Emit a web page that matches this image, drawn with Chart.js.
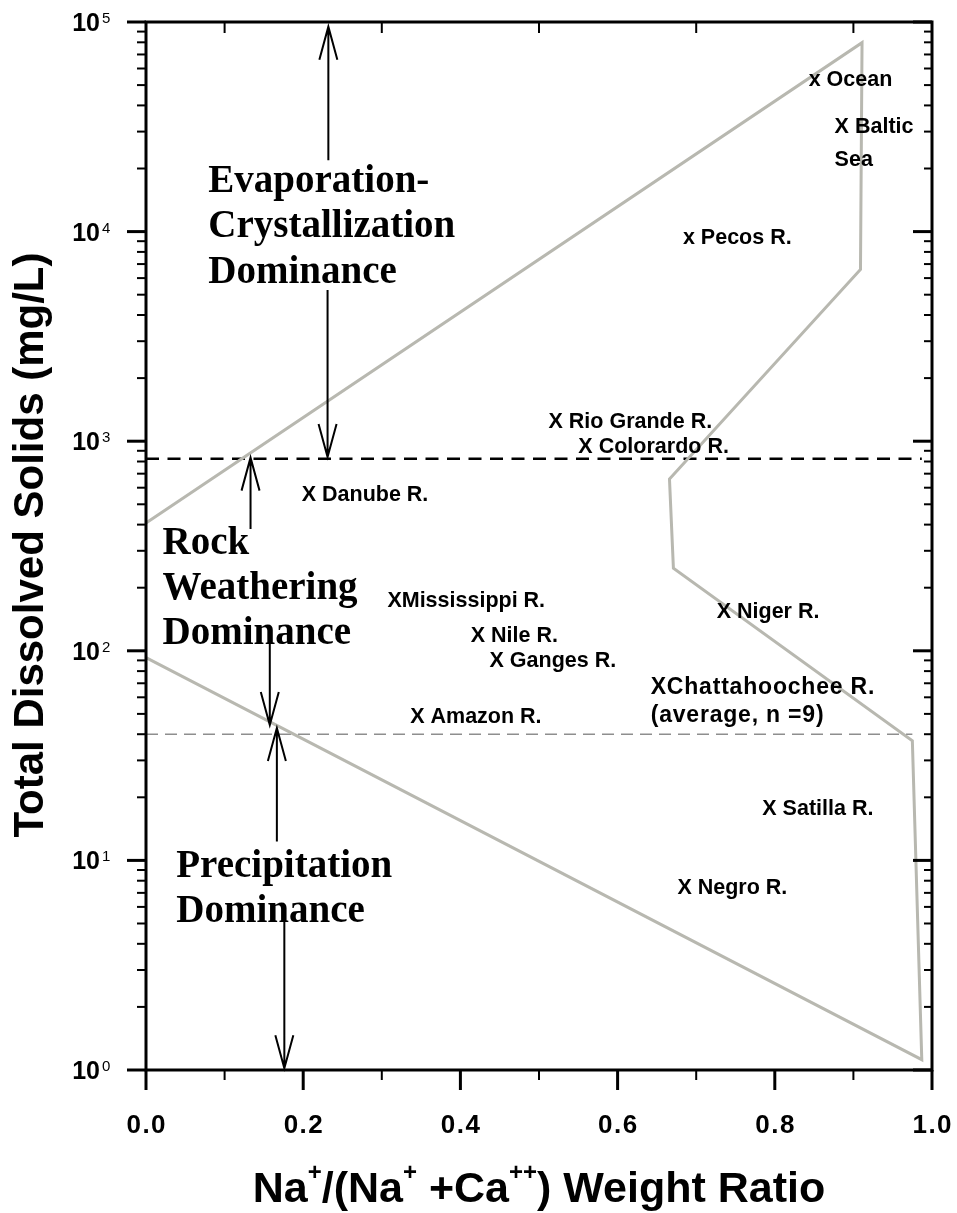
<!DOCTYPE html>
<html>
<head>
<meta charset="utf-8">
<title>Gibbs diagram</title>
<script src="https://cdn.jsdelivr.net/npm/chart.js@4/dist/chart.umd.min.js"></script>
<style>
  html, body { margin: 0; padding: 0; background: #ffffff; }
  canvas { display: block; }
</style>
</head>
<body>
<canvas id="gibbs" width="957" height="1213"></canvas>
<script>
// ---- Data -------------------------------------------------------------
// Boundary envelope of the Gibbs "boomerang" (Na/(Na+Ca) ratio, TDS mg/L)
const boundaryRatio = [0.0, 0.911, 0.909, 0.666, 0.671, 0.975, 0.987, 0.0];
const boundaryTDS   = [407, 79700, 6600, 660, 248, 37.2, 1.12, 92.7];

// Water bodies plotted on the diagram
const sampleNames = ['x Ocean', 'X Baltic', 'x Pecos R.', 'X Rio Grande R.', 'X Colorardo R.',
  'X Danube R.', 'XMississippi R.', 'X Nile R.', 'X Ganges R.', 'X Amazon R.',
  'X Niger R.', 'XChattahoochee R.', 'X Satilla R.', 'X Negro R.'];
const sampleSecondLine = ['', 'Sea', '', '', '', '', '', '', '', '', '', '(average, n =9)', '', ''];
const sampleRatio = [0.852, 0.885, 0.692, 0.521, 0.559, 0.207, 0.316, 0.422, 0.446, 0.345,
  0.735, 0.651, 0.793, 0.685];
const sampleTDS   = [53800, 32000, 9500, 1260, 957, 563, 175, 119, 91, 49,
  155, 68, 17.9, 7.5];

// Regime boundaries (TDS, mg/L)
const evaporationLimit   = 825;
const precipitationLimit = 40;
const evaporationLineEnd   = 0.987;
const precipitationLineEnd = 0.975;

// Arrows marking each regime: ratio position, tail TDS, head TDS
const arrowRatio = [0.232, 0.231, 0.133, 0.1575, 0.1665, 0.176];
const arrowFrom  = [21900, 5260, 381, 109, 12.3, 5.2];
const arrowTo    = [95000, 840, 835, 44.3, 42.8, 1.02];

// Regime captions and their anchor (ratio, TDS of first baseline)
const regimeLines = [
  ['Evaporation-', 'Crystallization', 'Dominance'],
  ['Rock', 'Weathering', 'Dominance'],
  ['Precipitation', 'Dominance']
];
const regimeRatio = [0.0793, 0.0211, 0.0385];
const regimeTDS   = [15450, 290, 8.36];

// Axis ticks
const ratioMajorTicks = [0, 0.2, 0.4, 0.6, 0.8, 1.0];
const ratioMinorTicks = [0.1, 0.3, 0.5, 0.7, 0.9];
const ratioTickLabels = ['0.0', '0.2', '0.4', '0.6', '0.8', '1.0'];
const tdsDecades = [0, 1, 2, 3, 4, 5];

// ---- Styling ---------------------------------------------------------
const SANS = '"Liberation Sans", Arial, sans-serif';
const SERIF = '"Liberation Serif", "Times New Roman", serif';
const emphasised = { 'XChattahoochee R.': true };

// ---- Plugins ---------------------------------------------------------
const frameAndText = {
  id: 'frameAndText',
  afterDatasetsDraw(chart) {
    const { ctx, chartArea: a, scales: { x, y } } = chart;
    const hasSpacing = 'letterSpacing' in ctx;
    ctx.save();
    ctx.strokeStyle = '#000';
    ctx.fillStyle = '#000';
    ctx.lineCap = 'butt';

    // arrows
    ctx.lineWidth = 2;
    arrowRatio.forEach((r, i) => {
      const ax = x.getPixelForValue(r);
      const y0 = y.getPixelForValue(arrowFrom[i]);
      const y1 = y.getPixelForValue(arrowTo[i]);
      const dir = y1 < y0 ? 1 : -1; // 1 => pointing up
      ctx.beginPath();
      ctx.moveTo(ax, y0);
      ctx.lineTo(ax, y1);
      ctx.moveTo(ax - 9, y1 + dir * 33);
      ctx.lineTo(ax, y1);
      ctx.lineTo(ax + 9, y1 + dir * 33);
      ctx.stroke();
    });

    // regime captions
    ctx.font = 'bold 39px ' + SERIF;
    ctx.textAlign = 'left';
    ctx.textBaseline = 'alphabetic';
    regimeLines.forEach((lines, i) => {
      const lx = x.getPixelForValue(regimeRatio[i]);
      const ly = y.getPixelForValue(regimeTDS[i]);
      lines.forEach((t, j) => ctx.fillText(t, lx, ly + j * 45.3));
    });

    // sample labels, anchored on the scatter elements
    const meta = chart.getDatasetMeta(3);
    meta.data.forEach((pt, i) => {
      const name = sampleNames[i];
      const big = !!emphasised[name];
      ctx.font = (big ? 'bold 23px ' : 'bold 21.5px ') + SANS;
      if (hasSpacing) ctx.letterSpacing = big ? '0.8px' : '0px';
      const left = pt.x - 7;
      const base = pt.y + (big ? 8 : 7.5);
      ctx.fillText(name, left, base);
      if (sampleSecondLine[i]) ctx.fillText(sampleSecondLine[i], left, base + (big ? 28.5 : 32.7));
    });
    if (hasSpacing) ctx.letterSpacing = '0px';

    // ticks
    const tick = (x0, y0, x1, y1, w) => {
      ctx.lineWidth = w;
      ctx.beginPath(); ctx.moveTo(x0, y0); ctx.lineTo(x1, y1); ctx.stroke();
    };
    for (let e = 0; e < 5; e++) {
      for (let m = 2; m <= 9; m++) {
        const py = y.getPixelForValue(m * Math.pow(10, e));
        tick(a.left - 9, py, a.left, py, 2);
        tick(a.right - 8, py, a.right, py, 2);
      }
    }
    tdsDecades.forEach(e => {
      const py = y.getPixelForValue(Math.pow(10, e));
      tick(a.left - 19, py, a.left, py, 3);
      tick(a.right - 19, py, a.right, py, 3);
    });
    ratioMajorTicks.forEach(r => {
      const px = x.getPixelForValue(r);
      tick(px, a.bottom, px, a.bottom + 20, 3);
    });
    ratioMinorTicks.forEach(r => {
      const px = x.getPixelForValue(r);
      tick(px, a.bottom, px, a.bottom + 10, 2);
      tick(px, a.top, px, a.top + 11, 2);
    });

    // frame
    ctx.lineWidth = 3;
    ctx.strokeRect(a.left, a.top, a.right - a.left, a.bottom - a.top);

    // y tick labels: 10^n
    tdsDecades.forEach(e => {
      const py = y.getPixelForValue(Math.pow(10, e));
      ctx.font = 'bold 25px ' + SANS;
      ctx.textAlign = 'right';
      ctx.fillText('10', 100, py + 9);
      ctx.font = '15px ' + SANS;
      ctx.textAlign = 'left';
      ctx.fillText(String(e), 102, py + 1);
    });

    // x tick labels
    ctx.font = 'bold 26px ' + SANS;
    ctx.textAlign = 'left';
    if (hasSpacing) ctx.letterSpacing = '1.5px';
    ratioMajorTicks.forEach((r, i) => {
      const t = ratioTickLabels[i];
      const w = ctx.measureText(t).width - (hasSpacing ? 1.5 : 0);
      ctx.fillText(t, x.getPixelForValue(r) - w / 2, 1133);
    });
    if (hasSpacing) ctx.letterSpacing = '0px';

    // x axis title with superscripts
    const parts = [['Na', 0], ['+', 1], ['/(Na', 0], ['+', 1], [' +Ca', 0], ['++', 1], [') Weight Ratio', 0]];
    const mainFont = 'bold 43px ' + SANS, supFont = 'bold 24px ' + SANS;
    let total = 0;
    parts.forEach(([t, s]) => { ctx.font = s ? supFont : mainFont; total += ctx.measureText(t).width; });
    let cx = (a.left + a.right) / 2 - total / 2;
    ctx.textAlign = 'left';
    parts.forEach(([t, s]) => {
      ctx.font = s ? supFont : mainFont;
      ctx.fillText(t, cx, s ? 1180 : 1202);
      cx += ctx.measureText(t).width;
    });

    // y axis title
    ctx.save();
    ctx.translate(43, 545);
    ctx.rotate(-Math.PI / 2);
    ctx.font = 'bold 42px ' + SANS;
    ctx.textAlign = 'center';
    ctx.fillText('Total Dissolved Solids (mg/L)', 0, 0);
    ctx.restore();

    ctx.restore();
  }
};

// ---- Chart -----------------------------------------------------------
const pts = (xs, ys) => xs.map((v, i) => ({ x: v, y: ys[i] }));

new Chart(document.getElementById('gibbs'), {
  type: 'scatter',
  data: {
    datasets: [
      {
        label: 'Boundary',
        data: pts(boundaryRatio, boundaryTDS),
        showLine: true,
        borderColor: '#b8b8b0',
        borderWidth: 3,
        pointRadius: 0,
        fill: false,
        tension: 0,
        clip: 4
      },
      {
        label: 'Evaporation limit',
        data: [{ x: 0, y: evaporationLimit }, { x: evaporationLineEnd, y: evaporationLimit }],
        showLine: true,
        borderColor: '#000000',
        borderWidth: 2.5,
        borderDash: [13, 8.5],
        pointRadius: 0
      },
      {
        label: 'Precipitation limit',
        data: [{ x: 0, y: precipitationLimit }, { x: precipitationLineEnd, y: precipitationLimit }],
        showLine: true,
        borderColor: '#8e8e8e',
        borderWidth: 1.6,
        borderDash: [12, 7],
        pointRadius: 0
      },
      {
        label: 'Samples',
        data: pts(sampleRatio, sampleTDS),
        showLine: false,
        pointRadius: 0
      }
    ]
  },
  options: {
    responsive: false,
    animation: false,
    devicePixelRatio: 1,
    layout: { padding: { left: 146, top: 22, right: 25, bottom: 143 } },
    scales: {
      x: { type: 'linear', min: 0, max: 1, display: false },
      y: { type: 'logarithmic', min: 1, max: 100000, display: false }
    },
    plugins: {
      legend: { display: false },
      tooltip: { enabled: false }
    }
  },
  plugins: [frameAndText]
});
</script>
</body>
</html>
